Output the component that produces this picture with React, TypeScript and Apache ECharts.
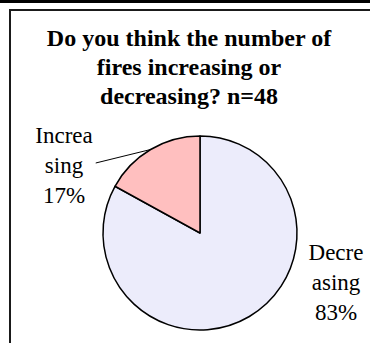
import { useEffect, useRef } from 'react';
import * as echarts from 'echarts';

const titleLines = ['Do you think the number of', 'fires increasing or', 'decreasing? n=48'];
const categories = ['Decreasing', 'Increasing'];
const wrappedNames = ['Decre\nasing', 'Increa\nsing'];
const percents = [83, 17];
const sliceColors = ['#ECECFB', '#FFBFBF'];
// label centres in pixels (layout, not data)
const labelCentres = [
  [336, 282],
  [64, 165],
];

const FONT = "'Liberation Serif', 'Times New Roman', serif";

export default function App() {
  const ref = useRef<HTMLDivElement>(null);
  useEffect(() => {
    if (!ref.current) return;
    const chart = echarts.init(ref.current, null, { renderer: 'svg' });
    chart.setOption({
      animation: false,
      backgroundColor: '#ffffff',
      title: {
        text: titleLines.join('\n'),
        left: 189,
        textAlign: 'center',
        top: 23,
        padding: 0,
        textStyle: {
          fontFamily: FONT,
          fontWeight: 'bold',
          fontSize: 24,
          lineHeight: 29,
          color: '#000',
        },
      },
      graphic: [
        {
          type: 'rect',
          shape: { x: 0, y: 0, width: 370, height: 3 },
          style: { fill: '#000' },
          silent: true,
        },
        {
          type: 'rect',
          shape: { x: 10, y: 10, width: 420, height: 420 },
          style: { fill: 'none', stroke: '#1a1a1a', lineWidth: 2 },
          silent: true,
        },
      ],
      series: [
        {
          type: 'pie',
          center: [200, 233],
          radius: 97,
          startAngle: 90,
          clockwise: true,
          avoidLabelOverlap: false,
          itemStyle: { borderColor: '#000', borderWidth: 1.5 },
          label: {
            show: true,
            position: 'outside',
            fontFamily: FONT,
            fontSize: 23,
            lineHeight: 30,
            color: '#000',
            align: 'center',
            formatter: (p: any) => wrappedNames[p.dataIndex] + '\n' + percents[p.dataIndex] + '%',
          },
          labelLine: { show: true, lineStyle: { color: '#000', width: 1 }, length: 10, length2: 10 },
          labelLayout: (params: any) => {
            const i = params.dataIndex;
            const [x, y] = labelCentres[i];
            const out: any = { x, y, align: 'center', verticalAlign: 'middle' };
            if (params.labelLinePoints && params.labelLinePoints.length) {
              const p0 = params.labelLinePoints[0];
              const end = [x + params.labelRect.width / 2 + 3, y - 2];
              out.labelLinePoints = [p0, end, end];
            }
            return out;
          },
          data: categories.map((name, i) => ({
            name,
            value: percents[i],
            itemStyle: { color: sliceColors[i] },
            labelLine: { show: i === 1 },
          })),
        },
      ],
    });
    return () => chart.dispose();
  }, []);
  return (
    <div
      ref={ref}
      style={{ position: 'fixed', left: 0, top: 0, width: 370, height: 343 }}
    />
  );
}
